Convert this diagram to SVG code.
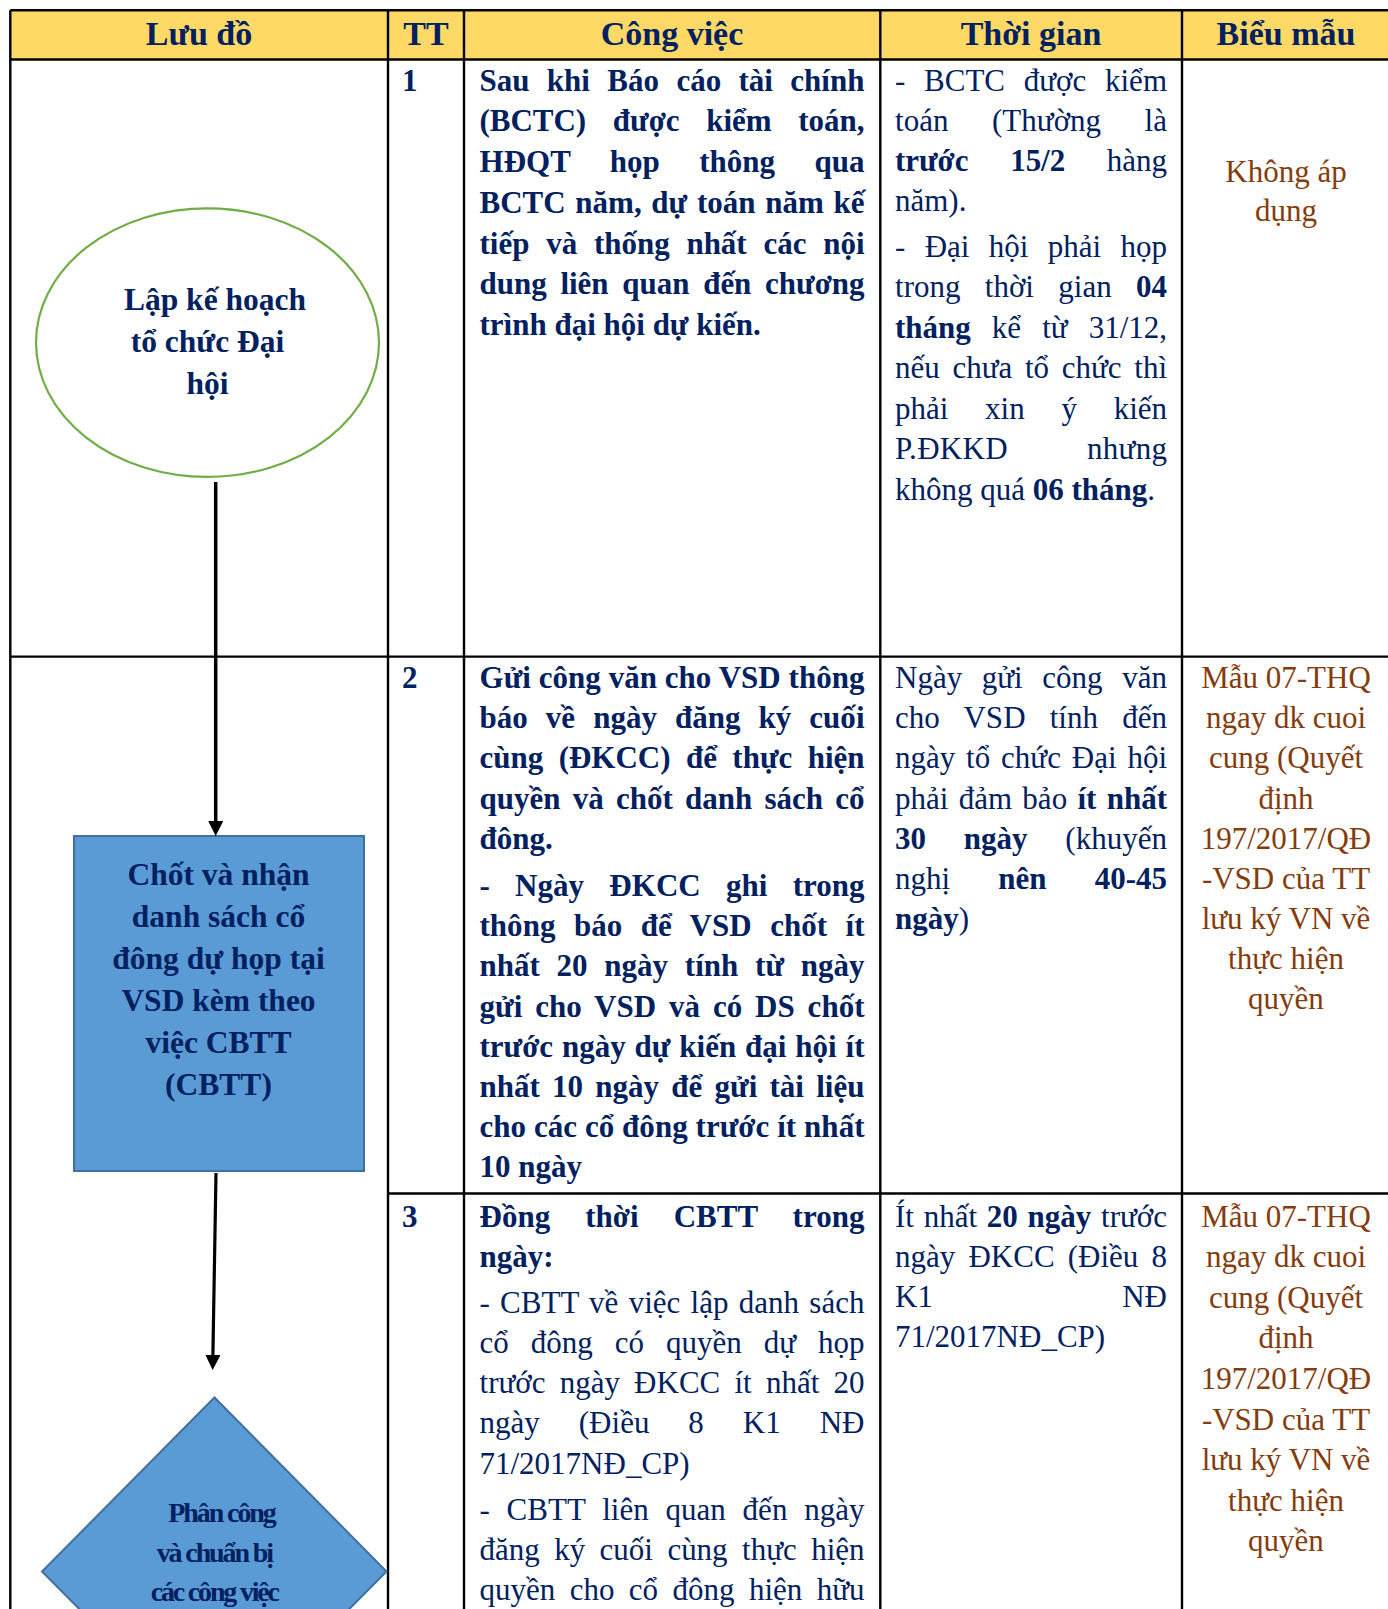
<svg xmlns="http://www.w3.org/2000/svg" width="1388" height="1609" viewBox="0 0 1388 1609">
<style>
text{font-family:"Liberation Serif","Times New Roman",serif;fill:#002060}
.h{font-size:34px;font-weight:bold;text-anchor:middle}
.t{font-size:31px}
.b{font-weight:bold}
.br{fill:#843C0C;text-anchor:middle}
.m{text-anchor:middle}
.nt{font-size:31.5px;font-weight:bold;text-anchor:middle}
.dt{font-size:28px;font-weight:bold}
.grid{stroke:#000;stroke-width:2.4;fill:none}
.node{fill:#5B9BD5;stroke:#41719C;stroke-width:2}
.conn{stroke:#000;fill:none}
</style>
<defs>
<marker id="arrow" markerWidth="15" markerHeight="15" refX="0" refY="7.5" orient="auto" markerUnits="userSpaceOnUse"><path d="M0,0L15,7.5L0,15z" fill="#000"/></marker>
</defs>
<rect width="1388" height="1609" fill="#fff"/>
<g id="table">
<rect x="10.3" y="10.3" width="1380" height="49.2" fill="#FFD966"/>
<path class="grid" d="M10.3,10.3H1390M10.3,59.5H1390M10.3,656.6H1390M388,1193.5H1390M10.3,10.3V1609M388,10.3V1609M464,10.3V1609M880.3,10.3V1609M1182,10.3V1609"/>
</g>
<g id="header">
<text class="h" x="199" y="45">Lưu đồ</text>
<text class="h" x="426" y="45">TT</text>
<text class="h" x="672" y="45">Công việc</text>
<text class="h" x="1031" y="45">Thời gian</text>
<text class="h" x="1286" y="45">Biểu mẫu</text>
</g>
<g id="row1">
<text class="t b" x="402" y="90.7">1</text>
<text class="t b" x="479.5" y="90.7" word-spacing="9.6" textLength="385" lengthAdjust="spacing">Sau khi Báo cáo tài chính</text>
<text class="t b" x="479.5" y="131.4" word-spacing="19" textLength="385" lengthAdjust="spacing">(BCTC) được kiểm toán,</text>
<text class="t b" x="479.5" y="172.1" word-spacing="31.6" textLength="385" lengthAdjust="spacing">HĐQT họp thông qua</text>
<text class="t b" x="479.5" y="212.8" word-spacing="2" textLength="385" lengthAdjust="spacing">BCTC năm, dự toán năm kế</text>
<text class="t b" x="479.5" y="253.5" word-spacing="9" textLength="385" lengthAdjust="spacing">tiếp và thống nhất các nội</text>
<text class="t b" x="479.5" y="294.2" word-spacing="6" textLength="385" lengthAdjust="spacing">dung liên quan đến chương</text>
<text class="t b" x="479.5" y="334.9">trình đại hội dự kiến.</text>
<text class="t" x="895" y="90.5" word-spacing="10.9" textLength="272" lengthAdjust="spacing">- BCTC được kiểm</text>
<text class="t" x="895" y="130.7" word-spacing="35.7" textLength="272" lengthAdjust="spacing">toán (Thường là</text>
<text class="t" x="895" y="171" word-spacing="34" textLength="272" lengthAdjust="spacing"><tspan class="b">trước 15/2</tspan> hàng</text>
<text class="t" x="895" y="211.2">năm).</text>
<text class="t" x="895" y="256.7" word-spacing="11.6" textLength="272" lengthAdjust="spacing">- Đại hội phải họp</text>
<text class="t" x="895" y="297.2" word-spacing="16.5" textLength="272" lengthAdjust="spacing">trong thời gian <tspan class="b">04</tspan></text>
<text class="t" x="895" y="337.7" word-spacing="13.3" textLength="272" lengthAdjust="spacing"><tspan class="b">tháng</tspan> kể từ 31/12,</text>
<text class="t" x="895" y="378.2" word-spacing="5" textLength="272" lengthAdjust="spacing">nếu chưa tổ chức thì</text>
<text class="t" x="895" y="418.7" word-spacing="29" textLength="272" lengthAdjust="spacing">phải xin ý kiến</text>
<text class="t" x="895" y="459.2" word-spacing="71" textLength="272" lengthAdjust="spacing">P.ĐKKD nhưng</text>
<text class="t" x="895" y="499.7">không quá <tspan class="b">06 tháng</tspan>.</text>
<text class="t br" x="1286" y="181.7">Không áp</text>
<text class="t br" x="1286" y="220.5">dụng</text>
</g>
<g id="row2">
<text class="t b" x="402" y="688.2">2</text>
<text class="t b" x="479.5" y="688.2" textLength="385" lengthAdjust="spacing">Gửi công văn cho VSD thông</text>
<text class="t b" x="479.5" y="728.3" word-spacing="10.3" textLength="385" lengthAdjust="spacing">báo về ngày đăng ký cuối</text>
<text class="t b" x="479.5" y="768.4" word-spacing="7.7" textLength="385" lengthAdjust="spacing">cùng (ĐKCC) để thực hiện</text>
<text class="t b" x="479.5" y="808.5" word-spacing="4.5" textLength="385" lengthAdjust="spacing">quyền và chốt danh sách cổ</text>
<text class="t b" x="479.5" y="848.6">đông.</text>
<text class="t b" x="479.5" y="896.2" word-spacing="17.5" textLength="385" lengthAdjust="spacing">- Ngày ĐKCC ghi trong</text>
<text class="t b" x="479.5" y="936.3" word-spacing="10.7" textLength="385" lengthAdjust="spacing">thông báo để VSD chốt ít</text>
<text class="t b" x="479.5" y="976.4" word-spacing="9" textLength="385" lengthAdjust="spacing">nhất 20 ngày tính từ ngày</text>
<text class="t b" x="479.5" y="1016.5" word-spacing="5.1" textLength="385" lengthAdjust="spacing">gửi cho VSD và có DS chốt</text>
<text class="t b" x="479.5" y="1056.5" word-spacing="1.2" textLength="385" lengthAdjust="spacing">trước ngày dự kiến đại hội ít</text>
<text class="t b" x="479.5" y="1096.6" word-spacing="4.5" textLength="385" lengthAdjust="spacing">nhất 10 ngày để gửi tài liệu</text>
<text class="t b" x="479.5" y="1136.7" textLength="385" lengthAdjust="spacing">cho các cổ đông trước ít nhất</text>
<text class="t b" x="479.5" y="1176.8">10 ngày</text>
<text class="t" x="895" y="688.2" word-spacing="11.9" textLength="272" lengthAdjust="spacing">Ngày gửi công văn</text>
<text class="t" x="895" y="728.3" word-spacing="16.3" textLength="272" lengthAdjust="spacing">cho VSD tính đến</text>
<text class="t" x="895" y="768.4" word-spacing="3.1" textLength="272" lengthAdjust="spacing">ngày tổ chức Đại hội</text>
<text class="t" x="895" y="808.5" word-spacing="2.5" textLength="272" lengthAdjust="spacing">phải đảm bảo <tspan class="b">ít nhất</tspan></text>
<text class="t" x="895" y="848.6" word-spacing="30" textLength="272" lengthAdjust="spacing"><tspan class="b">30 ngày</tspan> (khuyến</text>
<text class="t" x="895" y="888.7" word-spacing="40.4" textLength="272" lengthAdjust="spacing">nghị <tspan class="b">nên 40-45</tspan></text>
<text class="t" x="895" y="928.8"><tspan class="b">ngày</tspan>)</text>
<text class="t br" x="1286" y="688.2">Mẫu 07-THQ</text>
<text class="t br" x="1286" y="728.3">ngay dk cuoi</text>
<text class="t br" x="1286" y="768.4">cung (Quyết</text>
<text class="t br" x="1286" y="808.5">định</text>
<text class="t br" x="1286" y="848.6">197/2017/QĐ</text>
<text class="t br" x="1286" y="888.7">-VSD của TT</text>
<text class="t br" x="1286" y="928.8">lưu ký VN về</text>
<text class="t br" x="1286" y="968.9">thực hiện</text>
<text class="t br" x="1286" y="1009">quyền</text>
</g>
<g id="row3">
<text class="t b" x="402" y="1226.5">3</text>
<text class="t b" x="479.5" y="1226.5" word-spacing="27.2" textLength="385" lengthAdjust="spacing">Đồng thời CBTT trong</text>
<text class="t b" x="479.5" y="1266.5">ngày:</text>
<text class="t" x="479.5" y="1312.5" word-spacing="2.5" textLength="385" lengthAdjust="spacing">- CBTT về việc lập danh sách</text>
<text class="t" x="479.5" y="1352.7" word-spacing="14.2" textLength="385" lengthAdjust="spacing">cổ đông có quyền dự họp</text>
<text class="t" x="479.5" y="1393" word-spacing="6.4" textLength="385" lengthAdjust="spacing">trước ngày ĐKCC ít nhất 20</text>
<text class="t" x="479.5" y="1433.3" word-spacing="31.2" textLength="385" lengthAdjust="spacing">ngày (Điều 8 K1 NĐ</text>
<text class="t" x="479.5" y="1473.5">71/2017NĐ_CP)</text>
<text class="t" x="479.5" y="1519.5" word-spacing="9" textLength="385" lengthAdjust="spacing">- CBTT liên quan đến ngày</text>
<text class="t" x="479.5" y="1559.7" word-spacing="6.7" textLength="385" lengthAdjust="spacing">đăng ký cuối cùng thực hiện</text>
<text class="t" x="479.5" y="1600" word-spacing="6.7" textLength="385" lengthAdjust="spacing">quyền cho cổ đông hiện hữu</text>
<text class="t" x="895" y="1226.5" word-spacing="2" textLength="272" lengthAdjust="spacing">Ít nhất <tspan class="b">20 ngày</tspan> trước</text>
<text class="t" x="895" y="1266.8" word-spacing="5.4" textLength="272" lengthAdjust="spacing">ngày ĐKCC (Điều 8</text>
<text class="t" x="895" y="1307.1" word-spacing="181.6" textLength="272" lengthAdjust="spacing">K1 NĐ</text>
<text class="t" x="895" y="1347.4">71/2017NĐ_CP)</text>
<text class="t br" x="1286" y="1226.5">Mẫu 07-THQ</text>
<text class="t br" x="1286" y="1267.1">ngay dk cuoi</text>
<text class="t br" x="1286" y="1307.7">cung (Quyết</text>
<text class="t br" x="1286" y="1348.3">định</text>
<text class="t br" x="1286" y="1388.9">197/2017/QĐ</text>
<text class="t br" x="1286" y="1429.5">-VSD của TT</text>
<text class="t br" x="1286" y="1470.1">lưu ký VN về</text>
<text class="t br" x="1286" y="1510.7">thực hiện</text>
<text class="t br" x="1286" y="1551.3">quyền</text>
</g>
<g id="node-lap-ke-hoach">
<ellipse cx="207.5" cy="342.6" rx="171.5" ry="134.3" fill="#fff" stroke="#70AD47" stroke-width="2.2"/>
<text class="nt" x="215" y="310">Lập kế hoạch</text>
<text class="nt" x="207.5" y="352">tổ chức Đại</text>
<text class="nt" x="207.5" y="394">hội</text>
</g>
<g id="node-chot-danh-sach">
<rect class="node" x="74" y="836" width="290" height="335"/>
<text class="nt" x="218.5" y="885">Chốt và nhận</text>
<text class="nt" x="218.5" y="927">danh sách cổ</text>
<text class="nt" x="218.5" y="969">đông dự họp tại</text>
<text class="nt" x="218.5" y="1011">VSD kèm theo</text>
<text class="nt" x="218.5" y="1053">việc CBTT</text>
<text class="nt" x="218.5" y="1095">(CBTT)</text>
</g>
<g id="node-phan-cong">
<path class="node" d="M214.5,1397.5L386.5,1571.5L214.5,1745L42,1571.5Z"/>
<text class="dt" x="168.3" y="1522" textLength="108.5" lengthAdjust="spacing">Phân công</text>
<text class="dt" x="156.7" y="1561.7" textLength="117.3" lengthAdjust="spacing">và chuẩn bị</text>
<text class="dt" x="150.7" y="1600.7" textLength="129.3" lengthAdjust="spacing">các công việc</text>
</g>
<g id="connectors">
<line class="conn" x1="215.7" y1="482" x2="215.7" y2="821" stroke-width="3.5" marker-end="url(#arrow)"/>
<line class="conn" x1="216" y1="1173" x2="212.9" y2="1355" stroke-width="3.2" marker-end="url(#arrow)"/>
</g>
</svg>
